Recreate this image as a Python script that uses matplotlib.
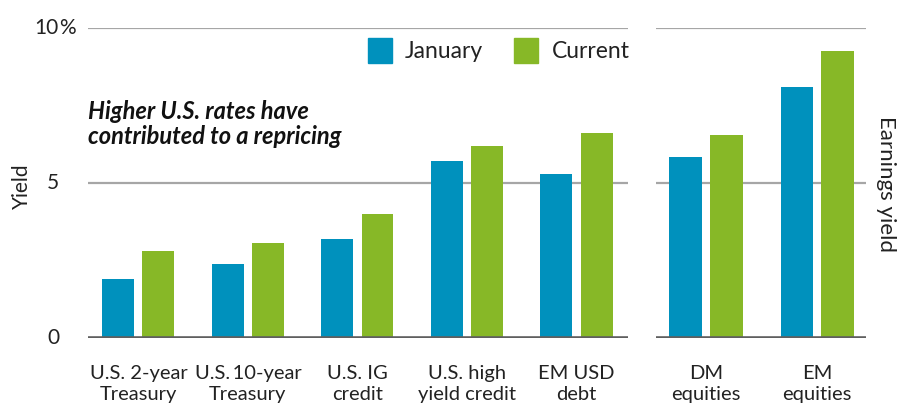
import matplotlib.pyplot as plt
import numpy as np

plt.rcParams['font.family'] = ['Lato', 'DejaVu Sans']

# yields, %
bond_labels = ['U.S. 2-year\nTreasury', 'U.S.\u200910-year\nTreasury', 'U.S. IG\ncredit',
               'U.S. high\nyield credit', 'EM USD\ndebt']
bond_january = [1.9, 2.4, 3.2, 5.7, 5.3]
bond_current = [2.8, 3.05, 4.0, 6.2, 6.6]

equity_labels = ['DM\nequities', 'EM\nequities']
equity_january = [5.85, 8.1]
equity_current = [6.55, 9.25]

y_ticks = [0, 5, 10]

blue = '#0091bd'
green = '#87b827'
grid_col = '#a6a6a6'
zero_col = '#5f5f5f'
text_col = '#222222'

fig = plt.figure(figsize=(9.03, 4.08), dpi=100)
ax1 = fig.add_axes([88/903, 70/408, 540/903, 310/408])
ax2 = fig.add_axes([656/903, 70/408, 210/903, 310/408])

w = 0.292
off = 0.183


def setup(ax, xlim):
    ax.set_ylim(0, 10)
    ax.set_xlim(*xlim)
    for s in ax.spines.values():
        s.set_visible(False)
    ax.set_yticks([])
    ax.set_xticks([])
    for t in y_ticks[1:]:
        ax.axhline(t, color=grid_col, lw=1.6, zorder=0)
    ax.axhline(0, color=zero_col, lw=2.6, zorder=3)


x1 = np.arange(len(bond_labels))
ax1.bar(x1 - off, bond_january, w, color=blue, zorder=2)
ax1.bar(x1 + off, bond_current, w, color=green, zorder=2)
setup(ax1, (-0.46, 4.47))

x2 = np.arange(len(equity_labels))
ax2.bar(x2 - off, equity_january, w, color=blue, zorder=2)
ax2.bar(x2 + off, equity_current, w, color=green, zorder=2)
setup(ax2, (-0.45, 1.44))

# category labels
for ax, xs, labels in [(ax1, x1, bond_labels), (ax2, x2, equity_labels)]:
    for x, lab in zip(xs, labels):
        ax.annotate(lab, (x, 0), xycoords=('data', 'data'), xytext=(0, -27),
                    textcoords='offset pixels', ha='center', va='top',
                    fontsize=14.5, color=text_col, linespacing=1.27)

# y tick labels, % hangs past the numbers
for t in y_ticks:
    ax1.annotate(str(t), (0, t), xycoords=('axes fraction', 'data'),
                 xytext=(-29, 0), textcoords='offset pixels',
                 ha='right', va='center', fontsize=15, color=text_col)
ax1.annotate('%', (0, 10), xycoords=('axes fraction', 'data'),
             xytext=(-29, 0), textcoords='offset pixels',
             ha='left', va='center', fontsize=15, color=text_col)

fig.text(22/903, 1 - 186/408, 'Yield', rotation=90, ha='center', va='center',
         fontsize=15, color=text_col)
fig.text(886/903, 1 - 184/408, 'Earnings yield', rotation=270, ha='center',
         va='center', fontsize=16, color=text_col)

fig.text(88/903, 1 - 124/408, 'Higher U.S. rates have\ncontributed to a repricing',
         ha='left', va='center', fontsize=17, fontweight='bold', style='italic',
         color='#111111', linespacing=1.15)

# legend
fig.patches.append(plt.Rectangle((368/903, 1 - 63/408), 24/903, 25/408,
                                 color=blue, transform=fig.transFigure))
fig.text(405/903, 1 - 51/408, 'January', ha='left', va='center', fontsize=16.5,
         color=text_col)
fig.patches.append(plt.Rectangle((514/903, 1 - 63/408), 24/903, 25/408,
                                 color=green, transform=fig.transFigure))
fig.text(552/903, 1 - 51/408, 'Current', ha='left', va='center', fontsize=16.5,
         color=text_col)

fig.savefig('out.png', dpi=100)
